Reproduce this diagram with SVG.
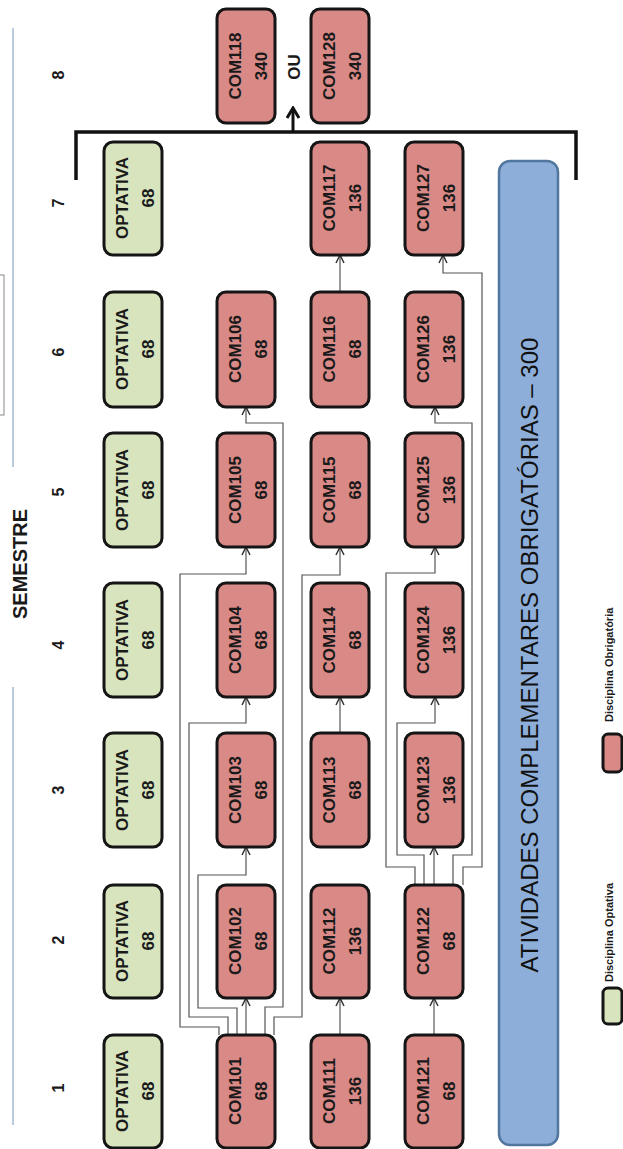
<svg xmlns="http://www.w3.org/2000/svg" width="623" height="1149" viewBox="0 0 623 1149">
<style>
.opt{fill:#d7e4bd;stroke:#151515;stroke-width:3}
.obr{fill:#d98986;stroke:#151515;stroke-width:3}
.t{font-family:"Liberation Sans",Arial,sans-serif;font-weight:bold;font-size:17px;fill:#1a1a1a;text-anchor:middle}
.sem{font-family:"Liberation Sans",Arial,sans-serif;font-weight:bold;font-size:16px;fill:#1a1a1a;text-anchor:middle}
.leg{font-family:"Liberation Sans",Arial,sans-serif;font-weight:bold;font-size:11px;fill:#1a1a1a;text-anchor:start}
.c{fill:none;stroke:#555;stroke-width:1.2}
</style>
<defs>
<marker id="ah" viewBox="0 0 10 10" refX="9" refY="5" markerWidth="10" markerHeight="10" markerUnits="userSpaceOnUse" orient="auto">
<path d="M1,1 L9,5 L1,9" fill="none" stroke="#333" stroke-width="1.5"/>
</marker>
<marker id="ahb" viewBox="0 0 14 14" refX="12" refY="7" markerWidth="14" markerHeight="14" markerUnits="userSpaceOnUse" orient="auto">
<path d="M2,1 L12,7 L2,13" fill="none" stroke="#111" stroke-width="3"/>
</marker>
</defs>
<rect width="623" height="1149" fill="#fff"/>

<g id="frame">
<rect x="-10" y="275" width="14" height="140" fill="none" stroke="#888" stroke-width="1"/>
<line x1="13" y1="28" x2="13" y2="467" stroke="#8ea9c8" stroke-width="1.2"/>
<line x1="13" y1="687" x2="13" y2="1125" stroke="#8ea9c8" stroke-width="1.2"/>
<text transform="translate(27,564) rotate(-90)" style="font-family:'Liberation Sans',Arial,sans-serif;font-weight:bold;font-size:20px;fill:#1a1a1a;text-anchor:middle" x="0" y="0">SEMESTRE</text>
</g>

<g id="semester-labels">
<text class="sem" transform="translate(64,1088) rotate(-90)">1</text>
<text class="sem" transform="translate(64,940) rotate(-90)">2</text>
<text class="sem" transform="translate(64,790) rotate(-90)">3</text>
<text class="sem" transform="translate(64,645) rotate(-90)">4</text>
<text class="sem" transform="translate(64,492) rotate(-90)">5</text>
<text class="sem" transform="translate(64,352) rotate(-90)">6</text>
<text class="sem" transform="translate(64,203) rotate(-90)">7</text>
<text class="sem" transform="translate(64,75) rotate(-90)">8</text>
</g>

<g id="connectors">
<path class="c" marker-end="url(#ah)" d="M246,1035 V998"/>
<path class="c" marker-end="url(#ah)" d="M237,1035 V1008 H198 V875 H246 V847"/>
<path class="c" marker-end="url(#ah)" d="M228,1035 V1017 H189 V723 H246 V697"/>
<path class="c" marker-end="url(#ah)" d="M219,1035 V1027 H180 V574 H246 V547"/>
<path class="c" marker-end="url(#ah)" d="M265,1035 V1007 H283 V423 H246 V407"/>
<path class="c" marker-end="url(#ah)" d="M274,1035 V1017 H302 V575 H340 V547"/>
<path class="c" marker-end="url(#ah)" d="M340,1035 V998"/>
<path class="c" marker-end="url(#ah)" d="M340,733 V697"/>
<path class="c" marker-end="url(#ah)" d="M340,292 V255"/>
<path class="c" marker-end="url(#ah)" d="M434,1035 V998"/>
<path class="c" marker-end="url(#ah)" d="M434,885 V847"/>
<path class="c" marker-end="url(#ah)" d="M424,885 V855 H397 V723 H435 V697"/>
<path class="c" marker-end="url(#ah)" d="M415,885 V867 H386 V573 H435 V547"/>
<path class="c" marker-end="url(#ah)" d="M453,885 V855 H472 V423 H435 V407"/>
<path class="c" marker-end="url(#ah)" d="M463,885 V867 H482 V273 H443 V255"/>
<path d="M76,180 V132 H576 V180" fill="none" stroke="#111" stroke-width="3.5"/>
<path d="M293,132 V108" fill="none" stroke="#111" stroke-width="3" marker-end="url(#ahb)"/>
<text class="t" transform="translate(300,67) rotate(-90)">OU</text>
</g>

<g id="OPT1"><rect class="opt" x="104" y="1035" width="58" height="113" rx="9"/><text class="t" transform="translate(133,1091) rotate(-90)"><tspan x="0" y="-5">OPTATIVA</tspan><tspan x="0" y="21">68</tspan></text></g>
<g id="OPT2"><rect class="opt" x="104" y="885" width="58" height="113" rx="9"/><text class="t" transform="translate(133,941) rotate(-90)"><tspan x="0" y="-5">OPTATIVA</tspan><tspan x="0" y="21">68</tspan></text></g>
<g id="OPT3"><rect class="opt" x="104" y="733" width="58" height="114" rx="9"/><text class="t" transform="translate(133,790) rotate(-90)"><tspan x="0" y="-5">OPTATIVA</tspan><tspan x="0" y="21">68</tspan></text></g>
<g id="OPT4"><rect class="opt" x="104" y="583" width="58" height="114" rx="9"/><text class="t" transform="translate(133,640) rotate(-90)"><tspan x="0" y="-5">OPTATIVA</tspan><tspan x="0" y="21">68</tspan></text></g>
<g id="OPT5"><rect class="opt" x="104" y="433" width="58" height="114" rx="9"/><text class="t" transform="translate(133,490) rotate(-90)"><tspan x="0" y="-5">OPTATIVA</tspan><tspan x="0" y="21">68</tspan></text></g>
<g id="OPT6"><rect class="opt" x="104" y="292" width="58" height="115" rx="9"/><text class="t" transform="translate(133,349) rotate(-90)"><tspan x="0" y="-5">OPTATIVA</tspan><tspan x="0" y="21">68</tspan></text></g>
<g id="OPT7"><rect class="opt" x="104" y="142" width="58" height="113" rx="9"/><text class="t" transform="translate(133,198) rotate(-90)"><tspan x="0" y="-5">OPTATIVA</tspan><tspan x="0" y="21">68</tspan></text></g>

<g id="COM101"><rect class="obr" x="217" y="1035" width="58" height="113" rx="9"/><text class="t" transform="translate(246,1091) rotate(-90)"><tspan x="0" y="-5">COM101</tspan><tspan x="0" y="21">68</tspan></text></g>
<g id="COM102"><rect class="obr" x="217" y="885" width="58" height="113" rx="9"/><text class="t" transform="translate(246,941) rotate(-90)"><tspan x="0" y="-5">COM102</tspan><tspan x="0" y="21">68</tspan></text></g>
<g id="COM103"><rect class="obr" x="217" y="733" width="58" height="114" rx="9"/><text class="t" transform="translate(246,790) rotate(-90)"><tspan x="0" y="-5">COM103</tspan><tspan x="0" y="21">68</tspan></text></g>
<g id="COM104"><rect class="obr" x="217" y="583" width="58" height="114" rx="9"/><text class="t" transform="translate(246,640) rotate(-90)"><tspan x="0" y="-5">COM104</tspan><tspan x="0" y="21">68</tspan></text></g>
<g id="COM105"><rect class="obr" x="217" y="433" width="58" height="114" rx="9"/><text class="t" transform="translate(246,490) rotate(-90)"><tspan x="0" y="-5">COM105</tspan><tspan x="0" y="21">68</tspan></text></g>
<g id="COM106"><rect class="obr" x="217" y="292" width="58" height="115" rx="9"/><text class="t" transform="translate(246,349) rotate(-90)"><tspan x="0" y="-5">COM106</tspan><tspan x="0" y="21">68</tspan></text></g>
<g id="COM118"><rect class="obr" x="217" y="9" width="58" height="114" rx="9"/><text class="t" transform="translate(246,66) rotate(-90)"><tspan x="0" y="-5">COM118</tspan><tspan x="0" y="21">340</tspan></text></g>

<g id="COM111"><rect class="obr" x="311" y="1035" width="58" height="113" rx="9"/><text class="t" transform="translate(340,1091) rotate(-90)"><tspan x="0" y="-5">COM111</tspan><tspan x="0" y="21">136</tspan></text></g>
<g id="COM112"><rect class="obr" x="311" y="885" width="58" height="113" rx="9"/><text class="t" transform="translate(340,941) rotate(-90)"><tspan x="0" y="-5">COM112</tspan><tspan x="0" y="21">136</tspan></text></g>
<g id="COM113"><rect class="obr" x="311" y="733" width="58" height="114" rx="9"/><text class="t" transform="translate(340,790) rotate(-90)"><tspan x="0" y="-5">COM113</tspan><tspan x="0" y="21">68</tspan></text></g>
<g id="COM114"><rect class="obr" x="311" y="583" width="58" height="114" rx="9"/><text class="t" transform="translate(340,640) rotate(-90)"><tspan x="0" y="-5">COM114</tspan><tspan x="0" y="21">68</tspan></text></g>
<g id="COM115"><rect class="obr" x="311" y="433" width="58" height="114" rx="9"/><text class="t" transform="translate(340,490) rotate(-90)"><tspan x="0" y="-5">COM115</tspan><tspan x="0" y="21">68</tspan></text></g>
<g id="COM116"><rect class="obr" x="311" y="292" width="58" height="115" rx="9"/><text class="t" transform="translate(340,349) rotate(-90)"><tspan x="0" y="-5">COM116</tspan><tspan x="0" y="21">68</tspan></text></g>
<g id="COM117"><rect class="obr" x="311" y="142" width="58" height="113" rx="9"/><text class="t" transform="translate(340,198) rotate(-90)"><tspan x="0" y="-5">COM117</tspan><tspan x="0" y="21">136</tspan></text></g>
<g id="COM128"><rect class="obr" x="311" y="9" width="58" height="114" rx="9"/><text class="t" transform="translate(340,66) rotate(-90)"><tspan x="0" y="-5">COM128</tspan><tspan x="0" y="21">340</tspan></text></g>

<g id="COM121"><rect class="obr" x="405" y="1035" width="58" height="113" rx="9"/><text class="t" transform="translate(434,1091) rotate(-90)"><tspan x="0" y="-5">COM121</tspan><tspan x="0" y="21">68</tspan></text></g>
<g id="COM122"><rect class="obr" x="405" y="885" width="58" height="113" rx="9"/><text class="t" transform="translate(434,941) rotate(-90)"><tspan x="0" y="-5">COM122</tspan><tspan x="0" y="21">68</tspan></text></g>
<g id="COM123"><rect class="obr" x="405" y="733" width="58" height="114" rx="9"/><text class="t" transform="translate(434,790) rotate(-90)"><tspan x="0" y="-5">COM123</tspan><tspan x="0" y="21">136</tspan></text></g>
<g id="COM124"><rect class="obr" x="405" y="583" width="58" height="114" rx="9"/><text class="t" transform="translate(434,640) rotate(-90)"><tspan x="0" y="-5">COM124</tspan><tspan x="0" y="21">136</tspan></text></g>
<g id="COM125"><rect class="obr" x="405" y="433" width="58" height="114" rx="9"/><text class="t" transform="translate(434,490) rotate(-90)"><tspan x="0" y="-5">COM125</tspan><tspan x="0" y="21">136</tspan></text></g>
<g id="COM126"><rect class="obr" x="405" y="292" width="58" height="115" rx="9"/><text class="t" transform="translate(434,349) rotate(-90)"><tspan x="0" y="-5">COM126</tspan><tspan x="0" y="21">136</tspan></text></g>
<g id="COM127"><rect class="obr" x="405" y="142" width="58" height="113" rx="9"/><text class="t" transform="translate(434,198) rotate(-90)"><tspan x="0" y="-5">COM127</tspan><tspan x="0" y="21">136</tspan></text></g>

<g id="ATIVIDADES">
<rect x="499" y="161" width="59" height="984" rx="11" fill="#8daed8" stroke="#52779f" stroke-width="2.5"/>
<text transform="translate(538,655) rotate(-90)" style="font-family:'Liberation Sans',Arial,sans-serif;font-size:24px;fill:#111;text-anchor:middle">ATIVIDADES COMPLEMENTARES OBRIGATÓRIAS – 300</text>
</g>

<g id="legend">
<rect class="opt" x="603" y="988" width="19" height="36" rx="5"/>
<text class="leg" transform="translate(613,982) rotate(-90)">Disciplina Optativa</text>
<rect class="obr" x="603" y="734" width="19" height="38" rx="5"/>
<text class="leg" transform="translate(613,722) rotate(-90)">Disciplina Obrigatória</text>
</g>
</svg>
